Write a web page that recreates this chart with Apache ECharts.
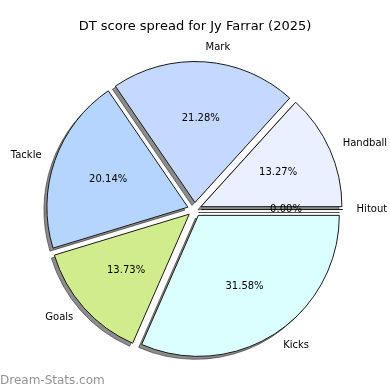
<!DOCTYPE html>
<html>
<head>
<meta charset="utf-8">
<script src="https://cdn.jsdelivr.net/npm/echarts@6/dist/echarts.min.js"></script>
<style>html,body{margin:0;padding:0;background:#fff}#c{width:390px;height:390px}</style>
</head>
<body>
<div id="c"></div>
<script>
const categories = ["Handball", "Mark", "Tackle", "Goals", "Kicks", "Hitout"];
const values = [13.27, 21.28, 20.14, 13.73, 31.58, 0.00];
const colors = ["#eaf0ff", "#c5d9ff", "#b5d5ff", "#d0ec8c", "#dbffff", "#f0f0f0"];

const R = 141;
const CX = 194.5, CY = 209.5;
const EXPLODE = 7;
const FONT = "DejaVu Sans";

const chart = echarts.init(document.getElementById('c'), null, {renderer: 'canvas'});

const sliceData = categories.map((c, i) => ({
  name: c, value: values[i], selected: true,
  itemStyle: {color: colors[i]}
}));
const plainData = categories.map((c, i) => ({
  name: c, value: values[i], selected: true
}));

const common = {
  type: 'pie', startAngle: 0, clockwise: false,
  selectedMode: 'multiple', selectedOffset: EXPLODE,
  avoidLabelOverlap: false, minAngle: 0, stillShowZeroSum: true,
  emphasis: {disabled: true}
};

chart.setOption({
  animation: false,
  title: {
    text: "DT score spread for Jy Farrar (2025)",
    left: 'center', top: 15,
    textStyle: {fontFamily: FONT, fontSize: 13, fontWeight: 'normal', color: '#000'}
  },
  graphic: [{
    type: 'text', left: 0, bottom: 3,
    style: {text: 'Dream-Stats.com', fontFamily: FONT, fontSize: 12, fill: '#939393'}
  }],
  series: [
    Object.assign({}, common, {
      center: [CX - 3, CY + 3], radius: [0, R], silent: true,
      itemStyle: {color: 'rgba(0,0,0,0.45)', borderColor: 'rgba(0,0,0,0.45)', borderWidth: 1},
      select: {itemStyle: {color: 'rgba(0,0,0,0.45)', borderColor: 'rgba(0,0,0,0.45)', borderWidth: 1}},
      label: {show: false}, labelLine: {show: false},
      data: plainData, z: 1
    }),
    Object.assign({}, common, {
      center: [CX, CY], radius: [0, R],
      itemStyle: {borderColor: '#1a1a1a', borderWidth: 1},
      select: {itemStyle: {borderColor: '#1a1a1a', borderWidth: 1}},
      label: {show: true, position: 'outside', formatter: '{b}', distanceToLabelLine: 0,
        offset: [0, 2],
        fontFamily: FONT, fontSize: 10, color: '#000', verticalAlign: 'middle'},
      labelLine: {show: false, length: R * 0.1, length2: 0},
      data: sliceData, z: 2
    }),
    Object.assign({}, common, {
      center: [CX, CY], radius: [22, R], silent: true,
      itemStyle: {color: 'rgba(0,0,0,0)', borderWidth: 0},
      select: {itemStyle: {color: 'rgba(0,0,0,0)', borderWidth: 0}},
      label: {show: true, position: 'inside', verticalAlign: 'middle', align: 'center',
        offset: [0, 2],
        formatter: p => p.value.toFixed(2) + '%',
        fontFamily: FONT, fontSize: 10, color: '#000', textBorderWidth: 0},
      labelLine: {show: false},
      data: plainData, z: 3
    })
  ]
});
</script>
</body>
</html>
